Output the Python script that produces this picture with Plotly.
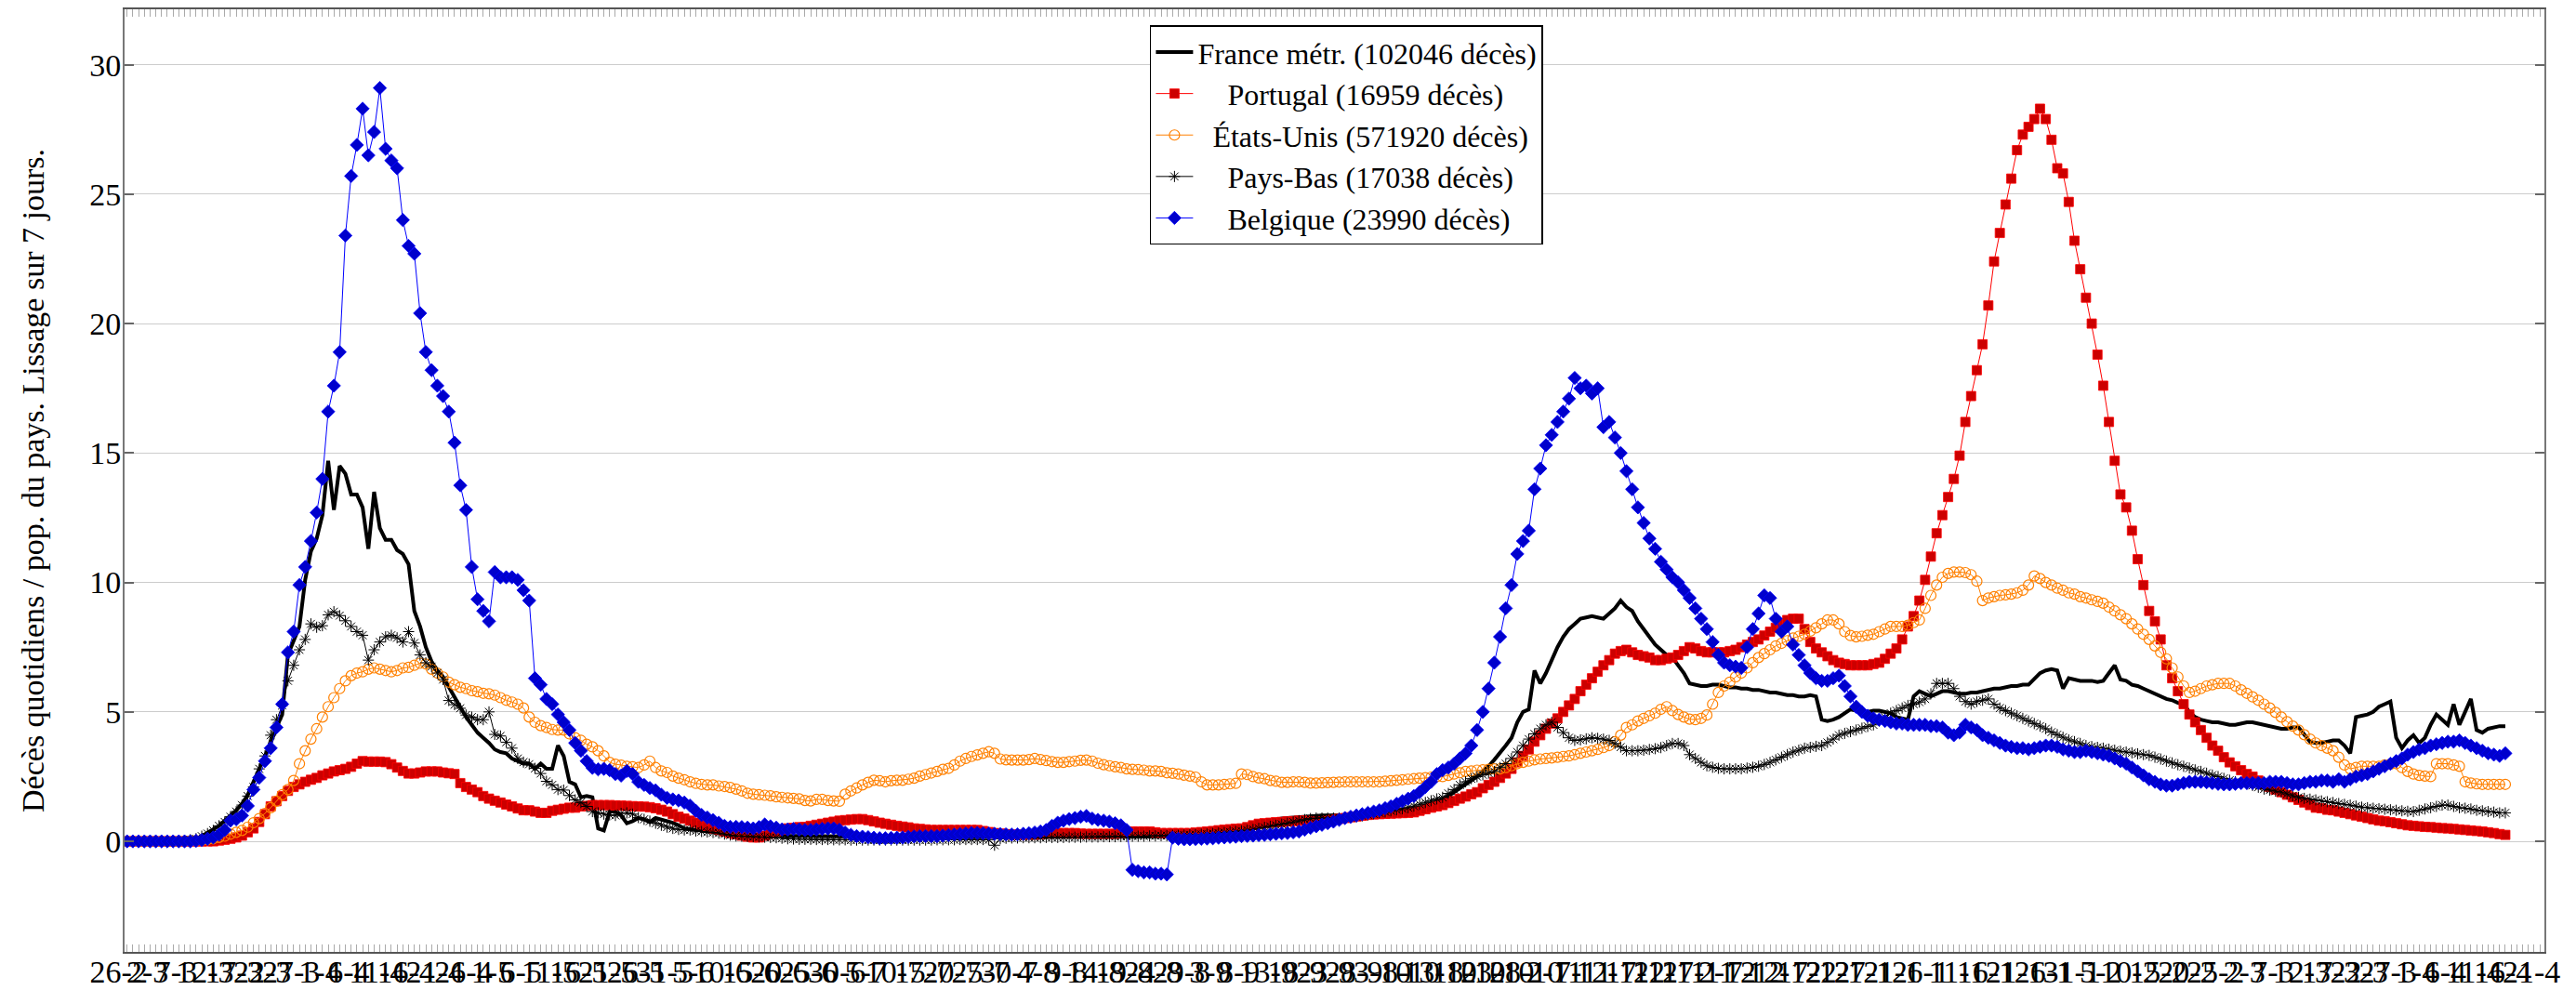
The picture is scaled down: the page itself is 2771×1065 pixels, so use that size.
import plotly.graph_objects as go

# Daily values, day 0 = 26-2-2020
FRANCE = [
 0.0, 0.0, 0.0, 0.0, 0.0, 0.01, 0.01, 0.02, 0.03, 0.04,
 0.05, 0.07, 0.1, 0.2, 0.32, 0.44, 0.6, 0.8, 1.0, 1.2,
 1.45, 1.8, 2.3, 2.8, 3.3, 3.8, 4.4, 4.9, 7.2, 7.8,
 8.3, 10.1, 11.2, 11.7, 12.6, 14.7, 12.8, 14.5, 14.2, 13.4,
 13.4, 12.9, 11.3, 13.5, 12.1, 11.65, 11.65, 11.25, 11.1, 10.7,
 8.9, 8.3, 7.5, 6.95, 6.6, 6.35, 5.95, 5.6, 5.15, 4.8,
 4.5, 4.2, 4.0, 3.8, 3.55, 3.45, 3.4, 3.2, 3.1, 3.0,
 3.0, 2.8, 3.0, 2.8, 2.8, 3.7, 3.3, 2.3, 2.2, 1.7,
 1.75, 1.7, 0.5, 0.42, 1.15, 1.15, 1.0, 0.7, 0.78, 0.9,
 0.85, 0.74, 0.9, 0.85, 0.8, 0.72, 0.62, 0.5, 0.47, 0.44,
 0.4, 0.38, 0.33, 0.3, 0.28, 0.27, 0.26, 0.26, 0.25, 0.25,
 0.25, 0.24, 0.24, 0.23, 0.23, 0.22, 0.21, 0.21, 0.2, 0.2,
 0.2, 0.2, 0.2, 0.19, 0.19, 0.19, 0.18, 0.18, 0.18, 0.18,
 0.17, 0.17, 0.17, 0.17, 0.16, 0.16, 0.16, 0.16, 0.16, 0.16,
 0.15, 0.15, 0.15, 0.15, 0.15, 0.15, 0.15, 0.15, 0.15, 0.15,
 0.15, 0.15, 0.15, 0.15, 0.15, 0.15, 0.15, 0.15, 0.15, 0.15,
 0.15, 0.15, 0.15, 0.15, 0.15, 0.15, 0.15, 0.15, 0.15, 0.15,
 0.15, 0.15, 0.15, 0.15, 0.15, 0.15, 0.15, 0.15, 0.15, 0.15,
 0.15, 0.16, 0.17, 0.18, 0.19, 0.2, 0.21, 0.23, 0.25, 0.27,
 0.3, 0.35, 0.4, 0.45, 0.5, 0.55, 0.6, 0.68, 0.75, 0.8,
 0.85, 0.88, 0.9, 0.92, 0.94, 0.95, 0.96, 0.97, 1.0, 1.0,
 1.0, 1.0, 1.0, 1.02, 1.04, 1.05, 1.06, 1.08, 1.1, 1.12,
 1.15, 1.18, 1.2, 1.23, 1.26, 1.3, 1.38, 1.45, 1.52, 1.6,
 1.75, 1.9, 2.05, 2.2, 2.35, 2.5, 2.7, 2.9, 3.15, 3.4,
 3.7, 4.0, 4.6, 5.0, 5.1, 6.6, 6.1, 6.5, 7.0, 7.5,
 7.9, 8.2, 8.4, 8.6, 8.65, 8.7, 8.65, 8.6, 8.8, 9.0,
 9.3, 9.05, 8.9, 8.5, 8.2, 7.9, 7.6, 7.4, 7.2, 7.1,
 6.8, 6.5, 6.1, 6.05, 6.0, 6.0, 6.05, 6.05, 6.0, 5.95,
 5.95, 5.9, 5.9, 5.85, 5.85, 5.8, 5.75, 5.75, 5.7, 5.65,
 5.65, 5.6, 5.6, 5.65, 5.6, 4.7, 4.65, 4.7, 4.8, 4.95,
 5.1, 5.05, 5.0, 5.0, 5.05, 5.05, 5.0, 4.95, 4.8, 4.75,
 4.7, 5.6, 5.8, 5.7, 5.6, 5.7, 5.8, 5.8, 5.75, 5.7,
 5.7, 5.75, 5.75, 5.8, 5.85, 5.9, 5.9, 5.95, 6.0, 6.0,
 6.05, 6.05, 6.3, 6.5, 6.6, 6.65, 6.6, 5.9, 6.3, 6.25,
 6.2, 6.2, 6.2, 6.15, 6.2, 6.5, 6.8, 6.25, 6.2, 6.05,
 6.0, 5.9, 5.8, 5.7, 5.6, 5.5, 5.45, 5.35, 5.3, 5.0,
 4.8, 4.7, 4.65, 4.6, 4.6, 4.55, 4.5, 4.5, 4.55, 4.6,
 4.6, 4.55, 4.5, 4.45, 4.4, 4.35, 4.35, 4.4, 4.4, 4.1,
 3.85, 3.8, 3.8, 3.85, 3.9, 3.9, 3.7, 3.4, 4.8, 4.85,
 4.9, 5.0, 5.2, 5.3, 5.4, 4.0, 3.6, 3.9, 4.1, 3.8,
 4.0, 4.5, 4.9, 4.7, 4.5, 5.3, 4.5, 5.0, 5.5, 4.3,
 4.2, 4.35, 4.4, 4.45, 4.45,
]

PORTUGAL = [
 0, 0, 0, 0, 0, 0, 0, 0, 0, 0,
 0, 0, 0, 0, 0, 0, 0.03, 0.06, 0.1, 0.15,
 0.22, 0.35, 0.5, 0.75, 1.05, 1.35, 1.55, 1.75, 1.95, 2.1,
 2.2, 2.3, 2.38, 2.45, 2.55, 2.62, 2.7, 2.75, 2.8, 2.88,
 3.0, 3.1, 3.08, 3.08, 3.08, 3.06, 2.98, 2.85, 2.72, 2.62,
 2.62, 2.66, 2.7, 2.7, 2.7, 2.66, 2.63, 2.6, 2.25, 2.1,
 2.0, 1.9, 1.75, 1.65, 1.57, 1.5, 1.42, 1.35, 1.27, 1.2,
 1.2, 1.15, 1.1, 1.1, 1.18, 1.22, 1.26, 1.3, 1.3, 1.35,
 1.37, 1.4, 1.4, 1.4, 1.4, 1.39, 1.38, 1.37, 1.36, 1.35,
 1.34, 1.32, 1.28, 1.22, 1.15, 1.05, 0.95, 0.88, 0.8, 0.72,
 0.65, 0.58, 0.5, 0.44, 0.38, 0.32, 0.27, 0.22, 0.18, 0.15,
 0.15, 0.22, 0.3, 0.38, 0.45, 0.5, 0.52, 0.55, 0.56, 0.6,
 0.64, 0.68, 0.72, 0.76, 0.8, 0.82, 0.84, 0.86, 0.86, 0.82,
 0.77, 0.72, 0.68, 0.64, 0.6, 0.57, 0.54, 0.5, 0.48, 0.46,
 0.44, 0.44, 0.44, 0.44, 0.44, 0.44, 0.44, 0.44, 0.44, 0.4,
 0.36, 0.32, 0.3, 0.28, 0.26, 0.26, 0.26, 0.26, 0.26, 0.28,
 0.3, 0.32, 0.32, 0.32, 0.32, 0.32, 0.3, 0.29, 0.29, 0.29,
 0.29, 0.29, 0.29, 0.33, 0.38, 0.38, 0.38, 0.38, 0.38, 0.35,
 0.32, 0.32, 0.32, 0.32, 0.32, 0.32, 0.34, 0.36, 0.38, 0.4,
 0.43, 0.45, 0.47, 0.49, 0.5, 0.55, 0.62, 0.68, 0.7, 0.72,
 0.74, 0.75, 0.77, 0.78, 0.8, 0.8, 0.78, 0.75, 0.76, 0.8,
 0.84, 0.87, 0.9, 0.93, 0.96, 0.99, 1.02, 1.04, 1.05, 1.06,
 1.07, 1.08, 1.09, 1.1, 1.12, 1.18, 1.24, 1.3, 1.35, 1.4,
 1.48, 1.56, 1.65, 1.73, 1.82, 1.9, 2.05, 2.18, 2.3, 2.45,
 2.62, 2.8, 3.05, 3.3, 3.55, 3.85, 4.1, 4.35, 4.55, 4.75,
 5.0, 5.25, 5.5, 5.8, 6.05, 6.3, 6.55, 6.8, 7.0, 7.25,
 7.35, 7.4, 7.3, 7.2, 7.15, 7.1, 7.0, 7.0, 7.05, 7.1,
 7.2, 7.35, 7.5, 7.45, 7.35, 7.3, 7.3, 7.3, 7.3, 7.35,
 7.4, 7.5, 7.6, 7.7, 7.8, 7.95, 8.1, 8.25, 8.4, 8.55,
 8.6, 8.6, 8.2, 7.7, 7.45, 7.3, 7.15, 7.0, 6.9, 6.85,
 6.8, 6.8, 6.8, 6.8, 6.85, 6.9, 7.05, 7.25, 7.45, 7.8,
 8.3, 8.7, 9.3, 10.1, 11.0, 11.9, 12.6, 13.3, 14.0, 14.9,
 16.2, 17.2, 18.2, 19.2, 20.7, 22.4, 23.5, 24.6, 25.6, 26.7,
 27.3, 27.6, 27.9, 28.3, 27.9, 27.1, 26.0, 25.8, 24.7, 23.2,
 22.1, 21.0, 20.0, 18.8, 17.6, 16.2, 14.7, 13.4, 12.9, 12.0,
 10.9, 9.9, 8.9, 8.5, 7.8, 6.8, 6.3, 5.8, 5.3, 4.9,
 4.6, 4.3, 4.0, 3.7, 3.5, 3.25, 3.05, 2.9, 2.75, 2.6,
 2.5, 2.35, 2.2, 2.1, 2.0, 1.9, 1.8, 1.7, 1.6, 1.5,
 1.4, 1.3, 1.28, 1.22, 1.2, 1.15, 1.1, 1.05, 1.0, 0.95,
 0.9, 0.85, 0.8, 0.78, 0.74, 0.7, 0.66, 0.62, 0.6, 0.58,
 0.56, 0.55, 0.53, 0.51, 0.5, 0.48, 0.46, 0.44, 0.42, 0.4,
 0.38, 0.35, 0.32, 0.28, 0.25,
]

ETATS_UNIS = [
 0, 0, 0, 0, 0, 0, 0, 0, 0, 0,
 0.01, 0.02, 0.03, 0.05, 0.07, 0.1, 0.15, 0.2, 0.28, 0.35,
 0.42, 0.55, 0.72, 0.88, 1.08, 1.3, 1.55, 1.8, 2.0, 2.35,
 3.0, 3.5, 3.95, 4.35, 4.8, 5.2, 5.55, 5.9, 6.2, 6.4,
 6.5, 6.55, 6.65, 6.7, 6.65, 6.6, 6.55, 6.6, 6.7, 6.72,
 6.8, 6.88, 6.85, 6.65, 6.5, 6.35, 6.15, 6.05, 5.95, 5.9,
 5.82, 5.78, 5.72, 5.7, 5.65, 5.55, 5.45, 5.38, 5.3, 5.15,
 4.8, 4.6, 4.47, 4.4, 4.32, 4.3, 4.3, 4.15, 4.0, 3.9,
 3.75, 3.65, 3.5, 3.3, 3.05, 2.98, 2.94, 2.9, 2.88, 2.85,
 2.95, 3.1, 2.85, 2.72, 2.66, 2.52, 2.44, 2.38, 2.3, 2.24,
 2.2, 2.18, 2.18, 2.14, 2.12, 2.08, 2.02, 1.95, 1.86, 1.82,
 1.8, 1.78, 1.76, 1.72, 1.7, 1.68, 1.66, 1.64, 1.58, 1.56,
 1.62, 1.62, 1.58, 1.56, 1.55, 1.82, 1.95, 2.06, 2.18, 2.28,
 2.36, 2.34, 2.3, 2.34, 2.36, 2.36, 2.4, 2.44, 2.52, 2.58,
 2.64, 2.7, 2.78, 2.82, 2.95, 3.1, 3.2, 3.28, 3.34, 3.4,
 3.46, 3.4, 3.18, 3.15, 3.14, 3.14, 3.14, 3.16, 3.2, 3.16,
 3.12, 3.08, 3.05, 3.05, 3.08, 3.1, 3.13, 3.14, 3.1, 3.02,
 2.96, 2.92, 2.88, 2.85, 2.8, 2.78, 2.77, 2.75, 2.72, 2.72,
 2.7, 2.65, 2.63, 2.6, 2.56, 2.52, 2.48, 2.3, 2.18, 2.18,
 2.18, 2.2, 2.22, 2.24, 2.6, 2.58, 2.5, 2.45, 2.42, 2.35,
 2.32, 2.28, 2.28, 2.3, 2.3, 2.28, 2.25, 2.25, 2.26, 2.27,
 2.28, 2.29, 2.3, 2.3, 2.3, 2.3, 2.3, 2.3, 2.3, 2.32,
 2.34, 2.36, 2.38, 2.4, 2.42, 2.44, 2.46, 2.48, 2.5, 2.5,
 2.55, 2.6, 2.65, 2.7, 2.72, 2.75, 2.76, 2.78, 2.8, 2.8,
 2.85, 2.92, 3.0, 3.05, 3.1, 3.15, 3.18, 3.2, 3.22, 3.25,
 3.28, 3.3, 3.35, 3.4, 3.45, 3.5, 3.55, 3.62, 3.7, 3.85,
 4.1, 4.4, 4.5, 4.65, 4.75, 4.85, 4.95, 5.1, 5.2, 5.05,
 4.9, 4.8, 4.72, 4.7, 4.75, 4.88, 5.3, 5.75, 6.0, 6.15,
 6.35, 6.5, 6.7, 6.9, 7.1, 7.25, 7.4, 7.55, 7.65, 7.75,
 7.85, 7.92, 8.0, 8.12, 8.25, 8.4, 8.55, 8.55, 8.4, 8.1,
 7.95, 7.9, 7.92, 7.96, 8.0, 8.1, 8.2, 8.3, 8.3, 8.3,
 8.35, 8.45, 8.55, 9.0, 9.5, 9.9, 10.2, 10.35, 10.4, 10.4,
 10.38, 10.3, 10.05, 9.3, 9.4, 9.45, 9.5, 9.52, 9.55, 9.6,
 9.7, 9.9, 10.25, 10.15, 10.0, 9.9, 9.78, 9.7, 9.6, 9.55,
 9.45, 9.4, 9.33, 9.27, 9.2, 9.05, 8.9, 8.75, 8.6, 8.4,
 8.2, 8.0, 7.8, 7.55, 7.3, 7.05, 6.7, 6.35, 6.0, 5.75,
 5.8, 5.9, 6.0, 6.05, 6.1, 6.1, 6.1, 6.0, 5.85, 5.72,
 5.58, 5.45, 5.3, 5.15, 4.98, 4.8, 4.62, 4.45, 4.3, 4.12,
 3.95, 3.8, 3.7, 3.6, 3.5, 3.25, 2.95, 2.8, 2.85, 2.9,
 2.9, 2.9, 2.9, 2.95, 2.98, 3.0, 2.85, 2.7, 2.6, 2.55,
 2.52, 2.5, 3.0, 3.0, 3.0, 2.95, 2.9, 2.3, 2.25, 2.22,
 2.2, 2.2, 2.2, 2.2, 2.2,
]

PAYS_BAS = [
 0, 0, 0, 0, 0, 0, 0, 0, 0, 0.01,
 0.03, 0.06, 0.1, 0.2, 0.3, 0.42, 0.6, 0.75, 0.95, 1.15,
 1.4, 1.75, 2.1, 2.8, 3.3, 4.1, 4.7, 5.25, 6.2, 6.8,
 7.4, 7.8, 8.4, 8.27, 8.33, 8.75, 8.87, 8.72, 8.52, 8.3,
 8.1, 7.96, 7.0, 7.4, 7.7, 7.9, 7.96, 7.86, 7.7, 8.1,
 7.66, 7.2, 6.9, 6.75, 6.5, 6.25, 5.44, 5.28, 5.14, 4.88,
 4.8, 4.7, 4.7, 5.0, 4.13, 4.07, 3.83, 3.6, 3.2, 3.06,
 2.98, 2.82, 2.62, 2.32, 2.18, 2.0, 1.98, 1.77, 1.6, 1.5,
 1.35, 1.15, 1.1, 1.05, 1.02, 1.0, 1.08, 1.1, 1.05, 0.92,
 0.85, 0.78, 0.7, 0.62, 0.55, 0.5, 0.46, 0.44, 0.44, 0.4,
 0.38, 0.36, 0.34, 0.32, 0.28, 0.24, 0.21, 0.2, 0.19, 0.18,
 0.17, 0.16, 0.15, 0.14, 0.12, 0.1, 0.09, 0.08, 0.08, 0.08,
 0.07, 0.07, 0.07, 0.06, 0.06, 0.06, 0.05, 0.05, 0.05, 0.05,
 0.05, 0.05, 0.05, 0.05, 0.05, 0.05, 0.05, 0.05, 0.05, 0.05,
 0.05, 0.06, 0.06, 0.06, 0.06, 0.07, 0.07, 0.07, 0.07, 0.07,
 0.06, -0.15, 0.1, 0.12, 0.13, 0.13, 0.14, 0.14, 0.14, 0.14,
 0.15, 0.15, 0.15, 0.15, 0.16, 0.16, 0.16, 0.17, 0.17, 0.17,
 0.18, 0.18, 0.18, 0.19, 0.19, 0.2, 0.2, 0.2, 0.21, 0.21,
 0.22, 0.22, 0.23, 0.23, 0.24, 0.25, 0.26, 0.27, 0.28, 0.3,
 0.32, 0.34, 0.36, 0.38, 0.4, 0.43, 0.46, 0.5, 0.54, 0.58,
 0.62, 0.66, 0.7, 0.75, 0.8, 0.84, 0.88, 0.9, 0.9, 0.9,
 0.9, 0.9, 0.9, 0.92, 0.95, 0.98, 1.02, 1.06, 1.1, 1.14,
 1.18, 1.22, 1.26, 1.3, 1.36, 1.43, 1.5, 1.57, 1.64, 1.7,
 1.85, 2.0, 2.18, 2.3, 2.42, 2.5, 2.57, 2.64, 2.7, 2.85,
 3.0, 3.2, 3.45, 3.7, 3.95, 4.15, 4.35, 4.5, 4.6, 4.4,
 4.2, 4.0, 3.9, 3.92, 3.96, 4.0, 3.98, 3.95, 3.9, 3.78,
 3.64, 3.5, 3.5, 3.5, 3.52, 3.55, 3.58, 3.62, 3.7, 3.78,
 3.78, 3.7, 3.35, 3.2, 3.05, 2.92, 2.86, 2.82, 2.8, 2.8,
 2.8, 2.8, 2.83, 2.86, 2.9, 2.97, 3.05, 3.15, 3.25, 3.35,
 3.45, 3.52, 3.6, 3.63, 3.67, 3.7, 3.82, 3.95, 4.1, 4.17,
 4.24, 4.3, 4.37, 4.44, 4.5, 4.65, 4.8, 4.95, 5.05, 5.15,
 5.25, 5.3, 5.38, 5.5, 5.7, 6.1, 6.1, 6.1, 5.9, 5.6,
 5.4, 5.3, 5.4, 5.45, 5.5, 5.3, 5.15, 5.05, 4.95, 4.85,
 4.75, 4.65, 4.55, 4.45, 4.35, 4.22, 4.12, 4.02, 3.92, 3.85,
 3.78, 3.7, 3.66, 3.63, 3.6, 3.56, 3.52, 3.48, 3.45, 3.42,
 3.38, 3.35, 3.32, 3.25, 3.18, 3.1, 3.03, 2.96, 2.9, 2.83,
 2.76, 2.7, 2.63, 2.56, 2.5, 2.43, 2.36, 2.3, 2.26, 2.22,
 2.16, 2.09, 2.02, 1.98, 1.94, 1.9, 1.83, 1.76, 1.7, 1.66,
 1.63, 1.6, 1.56, 1.53, 1.5, 1.46, 1.43, 1.4, 1.36, 1.32,
 1.3, 1.28, 1.26, 1.24, 1.22, 1.2, 1.18, 1.16, 1.15, 1.2,
 1.25, 1.3, 1.35, 1.4, 1.4, 1.35, 1.3, 1.28, 1.25, 1.2,
 1.18, 1.15, 1.13, 1.1, 1.1,
]

BELGIQUE = [
 0, 0, 0, 0, 0, 0, 0, 0, 0, 0,
 0, 0, 0.02, 0.05, 0.1, 0.15, 0.26, 0.44, 0.8, 0.85,
 1.0, 1.37, 2.0, 2.46, 3.1, 3.6, 4.4, 5.3, 7.3, 8.1,
 9.9, 10.6, 11.6, 12.7, 14.0, 16.6, 17.6, 18.9, 23.4, 25.7,
 26.9, 28.3, 26.5, 27.4, 29.1, 26.75, 26.3, 26.0, 24.0, 23.0,
 22.7, 20.4, 18.9, 18.2, 17.6, 17.2, 16.6, 15.4, 13.75, 12.8,
 10.6, 9.35, 8.9, 8.5, 10.4, 10.2, 10.2, 10.2, 10.1, 9.7,
 9.3, 6.3, 6.05, 5.5, 5.3, 4.9, 4.6, 4.3, 3.8, 3.5,
 3.1, 2.84, 2.78, 2.8, 2.75, 2.6, 2.54, 2.72, 2.6, 2.3,
 2.18, 2.06, 1.97, 1.8, 1.68, 1.62, 1.58, 1.5, 1.38, 1.18,
 1.02, 0.92, 0.82, 0.72, 0.6, 0.56, 0.56, 0.55, 0.53, 0.5,
 0.55, 0.65, 0.58, 0.53, 0.46, 0.46, 0.48, 0.46, 0.44, 0.44,
 0.46, 0.48, 0.5, 0.5, 0.45, 0.34, 0.25, 0.2, 0.18, 0.16,
 0.14, 0.12, 0.12, 0.13, 0.14, 0.15, 0.17, 0.19, 0.2, 0.2,
 0.2, 0.2, 0.22, 0.24, 0.26, 0.28, 0.3, 0.32, 0.32, 0.31,
 0.3, 0.29, 0.28, 0.27, 0.26, 0.27, 0.29, 0.31, 0.34, 0.38,
 0.44, 0.6, 0.72, 0.8, 0.86, 0.9, 0.95, 0.98, 0.88, 0.83,
 0.8, 0.76, 0.7, 0.62, 0.44, -1.1, -1.15, -1.2, -1.2, -1.25,
 -1.25, -1.28, 0.14, 0.1, 0.08, 0.08, 0.09, 0.1, 0.11, 0.12,
 0.14, 0.15, 0.17, 0.18, 0.2, 0.21, 0.22, 0.24, 0.25, 0.27,
 0.29, 0.31, 0.32, 0.35, 0.38, 0.45, 0.52, 0.58, 0.64, 0.7,
 0.76, 0.83, 0.9, 0.95, 1.0, 1.05, 1.1, 1.15, 1.2, 1.28,
 1.35, 1.45, 1.55, 1.65, 1.75, 1.9, 2.1, 2.3, 2.6, 2.75,
 2.85, 3.0, 3.2, 3.4, 3.7, 4.3, 5.0, 5.9, 6.9, 7.9,
 9.0, 9.9, 11.1, 11.6, 12.0, 13.6, 14.4, 15.3, 15.7, 16.2,
 16.6, 17.1, 17.9, 17.5, 17.6, 17.3, 17.5, 16.0, 16.2, 15.6,
 15.0, 14.3, 13.6, 12.9, 12.3, 11.7, 11.3, 10.8, 10.5, 10.2,
 10.0, 9.7, 9.4, 9.0, 8.6, 8.2, 7.7, 7.2, 6.9, 6.8,
 6.75, 6.7, 7.5, 8.2, 8.8, 9.5, 9.4, 8.6, 8.1, 8.3,
 7.6, 7.2, 6.8, 6.5, 6.3, 6.2, 6.2, 6.3, 6.4, 6.0,
 5.6, 5.2, 5.0, 4.85, 4.75, 4.7, 4.65, 4.6, 4.55, 4.55,
 4.5, 4.5, 4.5, 4.5, 4.45, 4.45, 4.4, 4.2, 4.1, 4.2,
 4.5, 4.4, 4.3, 4.1, 4.0, 3.9, 3.8, 3.7, 3.65, 3.6,
 3.6, 3.55, 3.6, 3.65, 3.7, 3.7, 3.65, 3.55, 3.5, 3.45,
 3.45, 3.5, 3.45, 3.4, 3.35, 3.3, 3.2, 3.1, 3.0, 2.85,
 2.7, 2.55, 2.4, 2.3, 2.2, 2.15, 2.15, 2.2, 2.25, 2.3,
 2.3, 2.3, 2.28, 2.25, 2.22, 2.2, 2.2, 2.22, 2.25, 2.25,
 2.25, 2.25, 2.25, 2.3, 2.3, 2.3, 2.25, 2.2, 2.2, 2.25,
 2.3, 2.3, 2.35, 2.35, 2.3, 2.4, 2.3, 2.4, 2.5, 2.55,
 2.6, 2.7, 2.8, 2.9, 3.0, 3.1, 3.2, 3.35, 3.45, 3.55,
 3.6, 3.7, 3.75, 3.8, 3.85, 3.85, 3.9, 3.8, 3.7, 3.6,
 3.5, 3.4, 3.35, 3.3, 3.4,
]

# Tick labels, one every 5 days from 26-2-2020 to 21-4-2021
TICK_LABELS = [
 "26-2", "2-3", "7-3", "12-3", "17-3", "22-3", "27-3", "1-4", "6-4", "11-4",
 "16-4", "21-4", "26-4", "1-5", "6-5", "11-5", "16-5", "21-5", "26-5", "31-5",
 "5-6", "10-6", "15-6", "20-6", "25-6", "30-6", "5-7", "10-7", "15-7", "20-7",
 "25-7", "30-7", "4-8", "9-8", "14-8", "19-8", "24-8", "29-8", "3-9", "8-9",
 "13-9", "18-9", "23-9", "28-9", "3-10", "8-10", "13-10", "18-10", "23-10", "28-10",
 "2-11", "7-11", "12-11", "17-11", "22-11", "27-11", "2-12", "7-12", "12-12", "17-12",
 "22-12", "27-12", "1-1", "6-1", "11-1", "16-1", "21-1", "26-1", "31-1", "5-2",
 "10-2", "15-2", "20-2", "25-2", "2-3", "7-3", "12-3", "17-3", "22-3", "27-3",
 "1-4", "6-4", "11-4", "16-4", "21-4",
]

NAMES = [
 "France métr. (102046 décès)",
 "\u00a0\u00a0\u00a0\u00a0Portugal (16959 décès)",
 "\u00a0\u00a0États-Unis (571920 décès)",
 "\u00a0\u00a0\u00a0\u00a0Pays-Bas (17038 décès)",
 "\u00a0\u00a0\u00a0\u00a0Belgique (23990 décès)",
]

FONT = "Liberation Serif"

n_ticks = len(TICK_LABELS) * 5 - 4
tick_days = list(range(n_ticks))
tick_text = [TICK_LABELS[d // 5] if d % 5 == 0 else "" for d in tick_days]

def days(vals):
    return list(range(len(vals)))

fig = go.Figure()
fig.add_trace(go.Scatter(x=days(FRANCE), y=FRANCE, name=NAMES[0], mode="lines",
                         line=dict(color="black", width=4)))
fig.add_trace(go.Scatter(x=days(PORTUGAL), y=PORTUGAL, name=NAMES[1], mode="lines+markers",
                         line=dict(color="#ff0000", width=1),
                         marker=dict(symbol="square", size=10, color="#cc0000",
                                     line=dict(color="#ff0000", width=0.8))))
fig.add_trace(go.Scatter(x=days(ETATS_UNIS), y=ETATS_UNIS, name=NAMES[2], mode="lines+markers",
                         line=dict(color="#ff8000", width=1),
                         marker=dict(symbol="circle-open", size=11, color="#ff8000",
                                     line=dict(color="#ff8000", width=1.2))))
fig.add_trace(go.Scatter(x=days(PAYS_BAS), y=PAYS_BAS, name=NAMES[3], mode="lines+markers",
                         line=dict(color="black", width=1),
                         marker=dict(symbol="asterisk-open", size=10, color="black",
                                     line=dict(color="black", width=1))))
fig.add_trace(go.Scatter(x=days(BELGIQUE), y=BELGIQUE, name=NAMES[4], mode="lines+markers",
                         line=dict(color="#0000ff", width=1),
                         marker=dict(symbol="diamond", size=11, color="#0000cc",
                                     line=dict(color="#0000ff", width=0.8))))

# The page body has an 8 px default margin: the figure is sized and the
# margins are set so that the plot area lands at x 134..2737, y 10..1024.
fig.update_layout(
    width=2763, height=1057,
    margin=dict(l=126, r=34, t=2, b=41, autoexpand=False),
    paper_bgcolor="white", plot_bgcolor="white",
    font=dict(family=FONT, size=32, color="black"),
    showlegend=True,
    legend=dict(x=0.4237, y=0.983, xanchor="left", yanchor="top",
                bgcolor="white", bordercolor="black", borderwidth=1.5,
                font=dict(family=FONT, size=32, color="black"),
                tracegroupgap=0, itemwidth=40),
    xaxis=dict(
        range=[-0.44, 420.8], automargin=False,
        tickmode="array", tickvals=tick_days, ticktext=tick_text,
        tickangle=0, ticks="inside", ticklen=8, tickwidth=1, tickcolor="#aaaaaa",
        ticklabelshift=-9, ticklabelstandoff=-10,
        showgrid=False, zeroline=False,
        showline=True, linecolor="#555555", linewidth=2, mirror="allticks",
        tickfont=dict(family=FONT, size=34, color="black"),
    ),
    yaxis=dict(
        range=[-4.27, 32.14], automargin=False,
        tickmode="array", tickvals=[0, 5, 10, 15, 20, 25, 30],
        ticks="inside", ticklen=10, tickwidth=1.5, tickcolor="#666666",
        showgrid=True, gridcolor="#cccccc", gridwidth=1,
        zeroline=False,
        showline=True, linecolor="#777777", linewidth=2, mirror="allticks",
        ticklabelstandoff=-5,
        tickfont=dict(family=FONT, size=34, color="black"),
        title=dict(text="Décès quotidiens / pop. du pays. Lissage sur 7 jours.",
                   font=dict(family=FONT, size=34, color="black"), standoff=38),
    ),
)

fig.write_html("out.html")
